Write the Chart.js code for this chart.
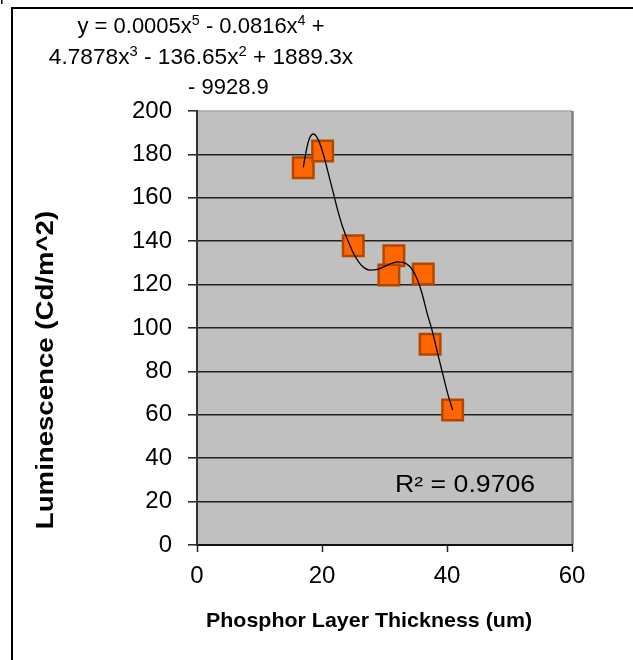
<!DOCTYPE html>
<html lang="en">
  <head>
    <meta charset="UTF-8" />
    <title>Luminescence vs Phosphor Layer Thickness</title>
    <style>
      body {
        margin: 0;
        padding: 0;
        background: #fff;
      }
      #chart {
        display: block;
      }
    </style>
  </head>
  <body>
    <canvas id="chart" width="633" height="660"></canvas>

    <script src="https://cdn.jsdelivr.net/npm/chart.js"></script>
    <script>
      // measured points
      const thickness = [17.0, 20.1, 25.0, 31.5, 30.7, 36.2, 37.3, 40.9];
      const luminescence = [173.9, 181.6, 137.9, 133.3, 124.4, 124.9, 92.5, 62.2];

      // poly trend line
      const trendX = [17.0, 17.5, 18.0, 18.6, 19.3, 20.1, 20.9, 21.7, 22.4, 23.2, 24.1, 25.2, 26.5, 27.6,
        28.9, 30.5, 32.1, 33.4, 34.5, 35.3, 36.0, 36.8, 37.7, 38.5, 39.3, 40.1, 40.9];
      const trendY = [174, 182, 187.4, 189.4, 187.4, 181.2, 172.5, 163.5, 155.5, 147.5, 140.6, 133.5, 128.3, 126.7,
        127, 129, 130.5, 129.8, 126.7, 122, 116, 107, 98, 88.3, 79.1, 69.9, 62.2];

      const xMin = 0, xMax = 60, xStep = 20;
      const yMin = 0, yMax = 200, yStep = 20;

      const xTitle = 'Phosphor Layer Thickness (um)';
      const yTitle = 'Luminescence (Cd/m^2)';
      const equation = [
        [['y = 0.0005x'], ['5', 1], [' - 0.0816x'], ['4', 1], [' +']],
        [['4.7878x'], ['3', 1], [' - 136.65x'], ['2', 1], [' + 1889.3x']],
        [['- 9928.9']]
      ];
      const rSquared = 'R² = 0.9706';

      const FONT = '"Liberation Sans", Arial, sans-serif';

      // draw a line of text made of normal / superscript runs, stretched by sx
      function drawRuns(ctx, runs, x, y, size, sx, align) {
        ctx.save();
        let w = 0;
        runs.forEach(function (r) {
          ctx.font = (r[1] ? size * 0.65 : size) + 'px ' + FONT;
          w += ctx.measureText(r[0]).width;
        });
        ctx.translate(x, y);
        ctx.scale(sx, 1);
        let cur = align === 'left' ? 0 : -w / 2;
        ctx.textAlign = 'left';
        ctx.textBaseline = 'alphabetic';
        ctx.fillStyle = '#000';
        runs.forEach(function (r) {
          ctx.font = (r[1] ? size * 0.65 : size) + 'px ' + FONT;
          ctx.fillText(r[0], cur, r[1] ? -size * 0.38 : 0);
          cur += ctx.measureText(r[0]).width;
        });
        ctx.restore();
      }

      const decorations = {
        id: 'decorations',
        beforeDraw(chart) {
          const ctx = chart.ctx;
          const a = chart.chartArea;
          ctx.save();
          // outer frame (top + left only visible)
          ctx.fillStyle = '#000';
          ctx.fillRect(11, 7, 2, 653);
          ctx.fillRect(11, 7, 622, 2);
          ctx.fillRect(1, 0, 1.5, 4);
          // plot area
          ctx.fillStyle = '#c0c0c0';
          ctx.fillRect(a.left, a.top, a.right - a.left, a.bottom - a.top);
          ctx.strokeStyle = '#a6a6a6';
          ctx.lineWidth = 1.5;
          ctx.beginPath();
          ctx.moveTo(a.left, a.top);
          ctx.lineTo(a.right, a.top);
          ctx.stroke();
          ctx.strokeStyle = '#7f7f7f';
          ctx.lineWidth = 2.5;
          ctx.beginPath();
          ctx.moveTo(a.right + 0.5, a.top);
          ctx.lineTo(a.right + 0.5, a.bottom);
          ctx.stroke();
          ctx.restore();
        },
        afterDraw(chart) {
          const ctx = chart.ctx;
          ctx.save();
          // axis titles
          ctx.fillStyle = '#000';
          ctx.textAlign = 'center';
          ctx.textBaseline = 'middle';
          ctx.font = 'bold 23px ' + FONT;
          ctx.translate(47, 370);
          ctx.rotate(-Math.PI / 2);
          ctx.scale(1.2, 1);
          ctx.fillText(yTitle, 0, 0);
          ctx.restore();

          ctx.save();
          ctx.fillStyle = '#000';
          ctx.textAlign = 'center';
          ctx.textBaseline = 'alphabetic';
          ctx.font = 'bold 21px ' + FONT;
          ctx.translate(369, 627);
          ctx.scale(1.02, 1);
          ctx.fillText(xTitle, 0, 0);
          ctx.restore();

          // trendline label
          drawRuns(ctx, equation[0], 201, 33, 22, 1.0);
          drawRuns(ctx, equation[1], 201, 64, 22, 1.03);
          drawRuns(ctx, equation[2], 188, 94, 22, 1.0, 'left');
          drawRuns(ctx, [[rSquared]], 395, 492, 23, 1.16, 'left');
        }
      };

      const ctx = document.getElementById('chart');

      new Chart(ctx, {
        type: 'scatter',
        data: {
          datasets: [
            {
              label: 'Poly. trend',
              data: trendX.map((x, i) => ({ x: x, y: trendY[i] })),
              showLine: true,
              borderColor: '#000',
              borderWidth: 1.3,
              pointRadius: 0,
              cubicInterpolationMode: 'monotone',
              fill: false,
            },
            {
              label: 'Luminescence',
              data: thickness.map((x, i) => ({ x: x, y: luminescence[i] })),
              pointStyle: 'rect',
              pointRadius: 14.5,
              pointHoverRadius: 14.5,
              backgroundColor: '#ff6600',
              borderColor: '#b34700',
              borderWidth: 2.5,
            },
          ],
        },
        options: {
          responsive: false,
          animation: false,
          events: [],
          layout: { padding: { left: 0, top: 111, right: 61, bottom: 0 } },
          plugins: {
            legend: { display: false },
            tooltip: { enabled: false },
            title: { display: false },
          },
          scales: {
            x: {
              type: 'linear',
              min: xMin,
              max: xMax,
              afterFit(scale) {
                scale.height = 115;
              },
              ticks: {
                stepSize: xStep,
                color: '#000',
                padding: 10,
                font: { family: FONT, size: 24 },
              },
              grid: {
                drawOnChartArea: false,
                drawTicks: true,
                tickLength: 7,
                tickColor: '#222',
                tickWidth: 1.5,
              },
              border: { color: '#111', width: 2 },
            },
            y: {
              type: 'linear',
              min: yMin,
              max: yMax,
              afterFit(scale) {
                scale.width = 197;
              },
              ticks: {
                stepSize: yStep,
                color: '#000',
                padding: 16,
                font: { family: FONT, size: 24 },
              },
              grid: {
                color: (c) => (c.tick && c.tick.value === yMax ? 'rgba(0,0,0,0)' : '#222'),
                lineWidth: 1.6,
                tickLength: 9,
                tickColor: '#222',
                tickWidth: 1.5,
              },
              border: { color: '#333', width: 2 },
            },
          },
        },
        plugins: [decorations],
      });
    </script>
  </body>
</html>
